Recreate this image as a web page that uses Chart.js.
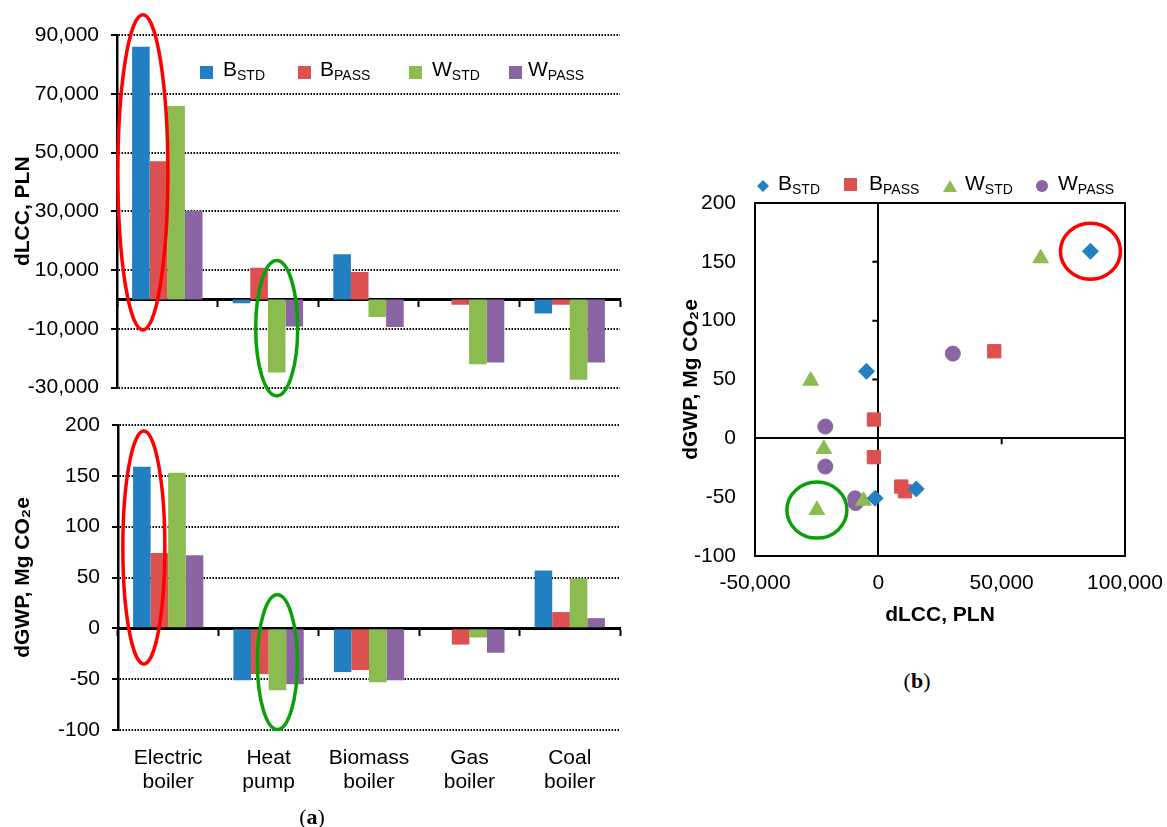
<!DOCTYPE html>
<html>
<head>
<meta charset="utf-8">
<script src="https://cdn.jsdelivr.net/npm/chart.js@4.4.1/dist/chart.umd.min.js"></script>
<style>
  html, body { margin:0; padding:0; background:#fff; }
  body { width:1167px; height:827px; position:relative; overflow:hidden; font-family:'Liberation Sans', Arial, sans-serif; color:#000; }
  canvas { position:absolute; }
  .leg { position:absolute; font-size:21px; line-height:21px; white-space:nowrap; }
  .leg sub { font-size:14px; vertical-align:-3.5px; line-height:0; }
  .mk { position:absolute; }
  .cap { position:absolute; font-family:'Liberation Serif','DejaVu Serif',serif; font-size:22px; text-align:center; width:60px; }
</style>
</head>
<body>
<canvas id="cTop" width="640" height="400" style="left:0;top:0"></canvas>
<canvas id="cBot" width="640" height="427" style="left:0;top:400px"></canvas>
<canvas id="cSc" width="497" height="480" style="left:670px;top:150px"></canvas>
<div id="legends"></div>
<div class="cap" style="left:282px;top:804px">(<b>a</b>)</div>
<div class="cap" style="left:887px;top:668px">(<b>b</b>)</div>
<script>
// ---------- data ----------
const categories = [['Electric','boiler'],['Heat','pump'],['Biomass','boiler'],['Gas','boiler'],['Coal','boiler']];
const seriesMain = ['B','B','W','W'];
const seriesSub  = ['STD','PASS','STD','PASS'];

// dLCC, PLN
const dLCC_BSTD  = [86000, -1300, 15400, null, -4800];
const dLCC_BPASS = [47000, 10800,  9300, -1800, -1800];
const dLCC_WSTD  = [65800, -24900, -6000, -22100, -27400];
const dLCC_WPASS = [30200, -9200, -9400, -21500, -21500];

// dGWP, Mg CO2e
const dGWP_BSTD  = [159, -51, -43, null, 57];
const dGWP_BPASS = [74, -45, -41, -16, 16];
const dGWP_WSTD  = [153, -61, -53, -9, 49];
const dGWP_WPASS = [72, -55, -51, -24, 10];

const lccTicks = { min: -30000, max: 90000, step: 20000 };
const gwpTicks = { min: -100, max: 200, step: 50 };
const scXTicks = { min: -50000, max: 100000, step: 50000 };

// ---------- style ----------
const colors = ['#2280C2', '#DD5050', '#8CBB50', '#8A64A3'];
const RED = '#FF0000', GREEN = '#0AA00A';
const FONT = "'Liberation Sans', Arial, sans-serif";
Chart.defaults.font.family = FONT;
Chart.defaults.color = '#000';

const dLCC = [dLCC_BSTD, dLCC_BPASS, dLCC_WSTD, dLCC_WPASS];
const dGWP = [dGWP_BSTD, dGWP_BPASS, dGWP_WSTD, dGWP_WPASS];
const fmt = v => Number(v).toLocaleString('en-US');

// keep the layout padding exactly as given (labels have room already)
const noPad = s => { s.paddingTop = 0; s.paddingBottom = 0; s.paddingLeft = 0; s.paddingRight = 0; };

function makeEllipses(items) {
  return {
    id: 'ellipses',
    afterDatasetsDraw(chart) {
      const ctx = chart.ctx;
      items.forEach(a => {
        const el = chart.getDatasetMeta(a.ds).data[a.idx];
        if (!el) return;
        let cx = el.x + (a.dx || 0), cy, ry;
        if (a.yFrom !== undefined) {
          const y1 = chart.scales.y.getPixelForValue(a.yFrom);
          const y2 = chart.scales.y.getPixelForValue(a.yTo);
          cy = (y1 + y2) / 2; ry = Math.abs(y2 - y1) / 2;
        } else { cy = el.y; ry = a.ry; }
        ctx.save();
        ctx.beginPath();
        ctx.ellipse(cx, cy, a.rx, ry, 0, 0, Math.PI * 2);
        ctx.lineWidth = 3.5; ctx.strokeStyle = a.color; ctx.stroke();
        ctx.restore();
      });
    }
  };
}

const tickFont = { size: 21, family: FONT };
const titleFont = { size: 21, weight: 'bold', family: FONT };

function barDatasets(src) {
  return src.map((d, i) => ({
    label: seriesMain[i] + seriesSub[i], data: d, backgroundColor: colors[i],
    borderWidth: 0, categoryPercentage: 0.7, barPercentage: 1.0
  }));
}

// ---------- top bar chart ----------
new Chart(document.getElementById('cTop'), {
  type: 'bar',
  data: { labels: categories, datasets: barDatasets(dLCC) },
  options: {
    responsive: false, animation: false,
    layout: { padding: { left: 0, top: 35, right: 20, bottom: 12.5 } },
    plugins: { legend: { display: false }, tooltip: { enabled: false } },
    scales: {
      x: {
        position: { y: 0 },
        ticks: { display: false },
        grid: { drawOnChartArea: false, drawTicks: true, tickLength: 6, tickWidth: 2, color: '#000', offset: true },
        border: { color: '#000', width: 3 },
        afterFit: noPad
      },
      y: {
        min: lccTicks.min, max: lccTicks.max,
        ticks: { stepSize: lccTicks.step, font: tickFont, color: '#000', padding: 12, callback: fmt },
        grid: { color: '#000', lineWidth: 2, tickLength: 6, tickWidth: 2, tickColor: '#000' },
        border: { color: '#000', width: 2.5, dash: [1.5, 1.5] },
        title: { display: true, text: 'dLCC, PLN', font: titleFont, color: '#000', padding: { top: 11, bottom: 0 } },
        afterFit: s => { s.width = 117; noPad(s); }
      }
    }
  },
  plugins: [makeEllipses([
    { ds: 0, idx: 0, yFrom: 96900, yTo: -10400, rx: 25, dx: 2, color: RED },
    { ds: 2, idx: 1, yFrom: 13200, yTo: -32800, rx: 21, dx: 0, color: GREEN }
  ])]
});

// ---------- bottom bar chart ----------
new Chart(document.getElementById('cBot'), {
  type: 'bar',
  data: { labels: categories, datasets: barDatasets(dGWP) },
  options: {
    responsive: false, animation: false,
    layout: { padding: { left: 0, top: 25, right: 20, bottom: 0 } },
    plugins: { legend: { display: false }, tooltip: { enabled: false } },
    scales: {
      x: {
        position: 'bottom',
        ticks: { font: { size: 21, family: FONT, lineHeight: 1.15 }, color: '#000', padding: 8, maxRotation: 0, autoSkip: false },
        grid: { display: false },
        border: { display: false },
        afterFit: s => { s.height = 97; noPad(s); }
      },
      x2: {
        type: 'category', axis: 'x', position: { y: 0 }, offset: true,
        ticks: { display: false },
        grid: { drawOnChartArea: false, drawTicks: true, tickLength: 6, tickWidth: 2, color: '#000', offset: true },
        border: { color: '#000', width: 3 },
        afterFit: noPad
      },
      y: {
        min: gwpTicks.min, max: gwpTicks.max,
        ticks: { stepSize: gwpTicks.step, font: tickFont, color: '#000', padding: 12, callback: fmt },
        grid: { color: c => (c.tick && c.tick.value === 0) ? 'rgba(0,0,0,0)' : '#000', lineWidth: 2, tickLength: 6, tickWidth: 2, tickColor: '#000' },
        border: { color: '#000', width: 2.5, dash: [1.5, 1.5] },
        title: { display: true, text: 'dGWP, Mg CO₂e', font: titleFont, color: '#000', padding: { top: 11, bottom: 0 } },
        afterFit: s => { s.width = 118; noPad(s); }
      }
    }
  },
  plugins: [makeEllipses([
    { ds: 0, idx: 0, yFrom: 194, yTo: -35, rx: 21, dx: 2, color: RED },
    { ds: 2, idx: 1, yFrom: 33, yTo: -99.5, rx: 20, dx: 0, color: GREEN }
  ])]
});

// ---------- scatter ----------
const pointStyles = ['rectRot', 'rect', 'triangle', 'circle'];
const pointRadii = [8, 9.4, 9, 7.5];
const scDatasets = dLCC.map((xs, i) => ({
  label: seriesMain[i] + seriesSub[i],
  data: xs.map((x, j) => ({ x: x, y: dGWP[i][j] })).filter(p => p.x !== null && p.y !== null),
  pointStyle: pointStyles[i], pointRadius: pointRadii[i],
  backgroundColor: colors[i], borderColor: colors[i], borderWidth: 1
}));

const framePlugin = {
  id: 'frame',
  beforeDatasetsDraw(chart) {
    const { ctx, chartArea: a, scales: { x, y } } = chart;
    ctx.save();
    ctx.strokeStyle = '#000'; ctx.lineWidth = 2;
    ctx.strokeRect(a.left, a.top, a.right - a.left, a.bottom - a.top);
    const x0 = x.getPixelForValue(0), y0 = y.getPixelForValue(0);
    ctx.beginPath();
    y.ticks.forEach(t => { if (t.value !== 0) { const p = y.getPixelForValue(t.value); ctx.moveTo(x0 - 6, p); ctx.lineTo(x0, p); } });
    x.ticks.forEach(t => { if (t.value !== 0) { const p = x.getPixelForValue(t.value); ctx.moveTo(p, y0); ctx.lineTo(p, y0 + 6); } });
    ctx.stroke();
    ctx.restore();
  }
};
const zeroColor = c => (c.tick && c.tick.value === 0) ? '#000' : 'rgba(0,0,0,0)';

new Chart(document.getElementById('cSc'), {
  type: 'scatter',
  data: { datasets: scDatasets },
  options: {
    responsive: false, animation: false,
    layout: { padding: { left: 0, top: 53, right: 42, bottom: 0 } },
    plugins: { legend: { display: false }, tooltip: { enabled: false } },
    scales: {
      x: {
        type: 'linear', min: scXTicks.min, max: scXTicks.max,
        ticks: { stepSize: scXTicks.step, font: tickFont, color: '#000', padding: 15, callback: fmt },
        grid: { color: zeroColor, lineWidth: 2, drawTicks: false },
        border: { display: false },
        title: { display: true, text: 'dLCC, PLN', font: titleFont, color: '#000', padding: { top: 0, bottom: 2 } },
        afterFit: s => { s.height = 74; noPad(s); }
      },
      y: {
        min: gwpTicks.min, max: gwpTicks.max,
        ticks: { stepSize: gwpTicks.step, font: tickFont, color: '#000', padding: 19, callback: fmt },
        grid: { color: zeroColor, lineWidth: 2, drawTicks: false },
        border: { display: false },
        title: { display: true, text: 'dGWP, Mg CO₂e', font: titleFont, color: '#000', padding: { top: 9, bottom: 0 } },
        afterFit: s => { s.width = 85; noPad(s); }
      }
    }
  },
  plugins: [framePlugin, makeEllipses([
    { ds: 0, idx: 0, rx: 30, ry: 28, color: RED },
    { ds: 2, idx: 1, rx: 30, ry: 28, color: GREEN }
  ])]
});

// ---------- HTML legends (subscripts) ----------
function markerSVG(kind, color) {
  if (kind === 'square') return {w:13,h:13,svg:`<svg width="13" height="13"><rect width="13" height="13" fill="${color}"/></svg>`};
  if (kind === 'diamond') return {w:12,h:12,svg:`<svg width="12" height="12"><polygon points="6,0 12,6 6,12 0,6" fill="${color}"/></svg>`};
  if (kind === 'triangle') return {w:14,h:12,svg:`<svg width="14" height="12"><polygon points="7,0 14,12 0,12" fill="${color}"/></svg>`};
  return {w:12,h:12,svg:`<svg width="12" height="12"><circle cx="6" cy="6" r="6" fill="${color}"/></svg>`};
}
const legTop = { markerX: [206.7, 304, 415, 515], textX: [223, 320, 432, 528], cy: 71.7, baseline: 76, kinds: ['square','square','square','square'] };
const legSc  = { markerX: [763, 850, 950, 1041.5], textX: [778, 869, 965, 1058], cy: 183.5, baseline: 189.3, kinds: ['diamond','square','triangle','circle'] };
let html = '';
[legTop, legSc].forEach(L => {
  for (let i = 0; i < 4; i++) {
    const m = markerSVG(L.kinds[i], colors[i]);
    html += `<div class="mk" style="left:${L.markerX[i]-m.w/2}px;top:${L.cy-m.h/2}px;width:${m.w}px;height:${m.h}px">${m.svg}</div>`;
    html += `<div class="leg" style="left:${L.textX[i]}px;top:${L.baseline-17.8}px">${seriesMain[i]}<sub>${seriesSub[i]}</sub></div>`;
  }
});
document.getElementById('legends').innerHTML = html;
</script>
</body>
</html>
